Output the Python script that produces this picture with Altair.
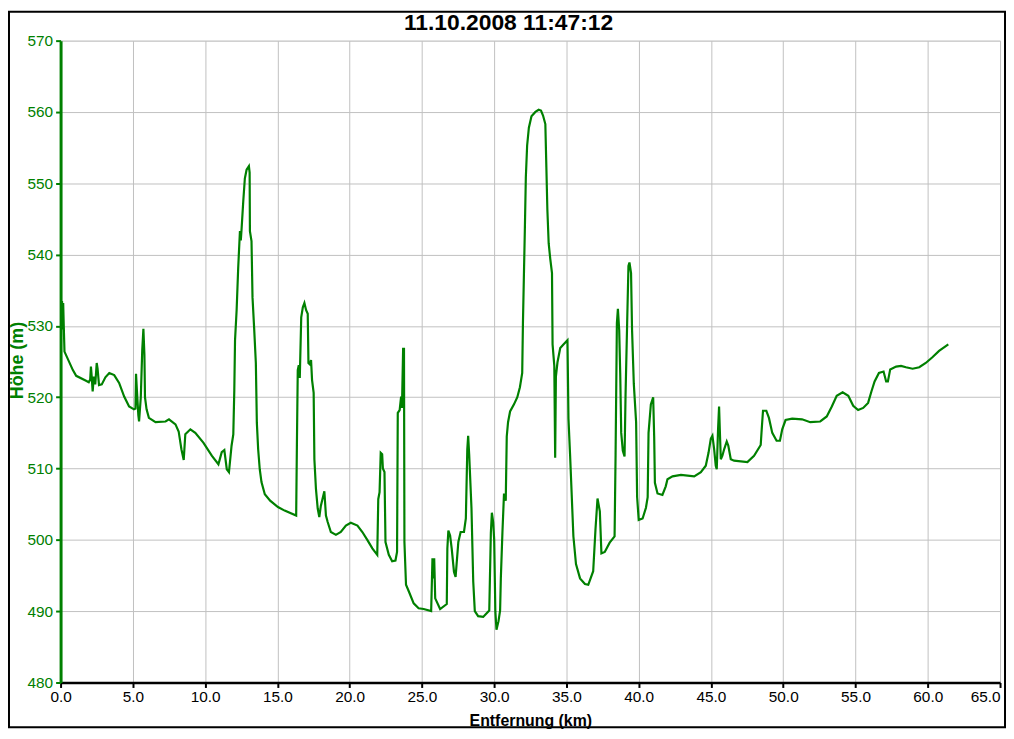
import altair as alt
import pandas as pd

# distance along track (km) and altitude (m)
km = [0.00, 0.05, 0.10, 0.14, 0.18, 0.22, 0.27, 0.85, 1.08, 1.76, 1.95, 2.05, 2.10, 2.15, 2.22, 2.30,
      2.40, 2.50, 2.56, 2.66, 2.85, 3.10, 3.37, 3.71, 4.05, 4.40, 4.74, 5.08, 5.18, 5.22, 5.28, 5.38,
      5.43, 5.55, 5.65, 5.73, 5.80, 5.84, 5.95, 6.11, 6.57, 7.26, 7.50, 7.95, 8.17, 8.36, 8.52, 8.63,
      8.98, 9.32, 9.89, 10.46, 10.92, 11.15, 11.33, 11.50, 11.65, 11.83, 11.95, 12.02, 12.07, 12.18,
      12.29, 12.41, 12.47, 12.52, 12.64, 12.75, 12.87, 13.03, 13.08, 13.10, 13.21, 13.28, 13.39, 13.51,
      13.58, 13.67, 13.78, 13.90, 14.13, 14.50, 15.04, 15.50, 16.30, 16.35, 16.41, 16.48, 16.55, 16.65,
      16.76, 16.87, 16.99, 17.10, 17.15, 17.25, 17.33, 17.40, 17.51, 17.56, 17.67, 17.79, 17.90, 18.01,
      18.25, 18.36, 18.48, 18.70, 19.05, 19.39, 19.74, 20.08, 20.54, 20.88, 21.22, 21.57, 21.91, 21.98,
      22.07, 22.15, 22.25, 22.30, 22.41, 22.48, 22.71, 22.94, 23.17, 23.28, 23.33, 23.46, 23.56, 23.62,
      23.70, 23.76, 23.79, 23.90, 24.09, 24.43, 24.77, 25.12, 25.64, 25.73, 25.80, 25.85, 25.92, 26.26,
      26.72, 26.76, 26.83, 26.95, 27.06, 27.22, 27.33, 27.45, 27.52, 27.68, 27.91, 28.04, 28.14, 28.20,
      28.27, 28.43, 28.55, 28.66, 28.89, 29.24, 29.66, 29.77, 29.84, 29.93, 30.00, 30.08, 30.16, 30.30,
      30.41, 30.46, 30.57, 30.68, 30.80, 30.87, 30.96, 31.10, 31.37, 31.60, 31.78, 31.94, 31.99, 32.05,
      32.12, 32.19, 32.28, 32.40, 32.58, 32.85, 33.08, 33.24, 33.38, 33.54, 33.61, 33.68, 33.77, 33.88,
      34.00, 34.04, 34.16, 34.22, 34.27, 34.38, 34.57, 34.79, 35.07, 35.14, 35.25, 35.37, 35.48, 35.66,
      35.94, 36.28, 36.51, 36.85, 37.01, 37.15, 37.31, 37.42, 37.65, 37.99, 38.33, 38.40, 38.49, 38.56,
      38.65, 38.72, 38.79, 38.90, 39.02, 39.09, 39.20, 39.29, 39.36, 39.47, 39.54, 39.66, 39.82, 39.89,
      40.00, 40.27, 40.50, 40.62, 40.68, 40.84, 41.00, 41.07, 41.12, 41.30, 41.64, 41.87, 41.99, 42.34,
      42.92, 43.84, 44.30, 44.64, 44.83, 44.99, 45.10, 45.22, 45.33, 45.40, 45.49, 45.56, 45.61, 45.68,
      45.79, 45.91, 46.09, 46.20, 46.37, 46.60, 47.52, 47.98, 48.44, 48.51, 48.60, 48.83, 49.01, 49.24,
      49.54, 49.77, 49.93, 50.16, 50.62, 51.30, 51.87, 52.56, 53.01, 53.36, 53.70, 54.11, 54.50, 54.84,
      55.18, 55.53, 55.87, 56.10, 56.32, 56.62, 56.94, 57.12, 57.24, 57.40, 57.81, 58.15, 58.49, 58.95,
      59.41, 59.86, 60.32, 60.78, 61.42]

elev = [525.5, 531.5, 533.5, 529.5, 533.2, 530.0, 526.4, 523.8, 523.0, 522.3, 522.1, 522.5, 524.3, 523.0, 520.8, 522.9,
        521.8, 524.8, 524.0, 521.7, 521.8, 522.8, 523.4, 523.1, 522.0, 520.1, 518.7, 518.3, 518.4, 523.3, 521.0, 517.5,
        516.6, 520.0, 526.6, 529.6, 526.0, 520.0, 518.3, 517.1, 516.5, 516.6, 516.9, 516.2, 515.2, 512.7, 511.2, 514.8,
        515.5, 515.0, 513.6, 511.8, 510.6, 512.3, 512.6, 509.9, 509.5, 513.2, 514.8, 521.0, 528.0, 532.2,
        538.2, 543.3, 542.0, 543.5, 547.5, 550.7, 551.9, 552.4, 551.5, 543.3, 541.9, 534.0, 529.8, 524.8,
        516.4, 512.7, 509.9, 508.1, 506.4, 505.5, 504.6, 504.1, 503.4, 513.2, 523.8, 524.5, 522.7, 531.2,
        532.6, 533.2, 532.2, 531.7, 524.8, 524.6, 525.2, 522.4, 520.6, 511.3, 507.1, 504.4, 503.2, 504.8,
        506.8, 503.4, 502.5, 501.1, 500.7, 501.1, 502.0, 502.4, 502.0, 501.1, 500.0, 498.8, 497.9, 505.7,
        506.7, 512.2, 512.0, 510.0, 509.5, 499.7, 497.9, 497.0, 497.1, 498.3, 517.8, 518.2, 520.1, 518.5,
        526.8, 526.8, 499.7, 493.7, 492.8, 491.1, 490.4, 490.3, 490.0, 497.4, 494.6, 497.4, 491.8, 490.3,
        491.0, 498.8, 501.3, 500.6, 498.8, 495.5, 494.8, 497.9, 499.7, 501.1, 501.1, 503.0, 512.7, 514.6,
        512.0, 504.4, 494.2, 490.0, 489.3, 489.2, 490.1, 501.0, 503.8, 502.5, 500.0, 490.0, 487.4, 488.6,
        490.1, 494.6, 501.0, 506.5, 505.5, 514.5, 516.5, 518.0, 519.0, 520.0, 521.4, 523.4, 530.4, 536.4,
        543.3, 550.8, 555.3, 557.8, 559.4, 560.0, 560.3, 560.2, 559.5, 558.3, 552.3, 546.3, 541.6, 539.4,
        537.4, 527.4, 524.4, 511.5, 522.9, 524.9, 526.9, 527.4, 528.0, 517.0, 512.0, 506.0, 500.5, 496.6,
        494.6, 493.8, 493.7, 495.6, 501.5, 505.8, 504.0, 498.1, 498.3, 499.6, 500.5, 512.0, 530.4, 532.4,
        529.4, 523.4, 515.0, 512.5, 511.7, 520.4, 530.4, 538.4, 538.9, 537.4, 529.4, 521.9, 516.5, 506.0,
        502.8, 503.0, 504.5, 506.0, 515.0, 519.0, 520.0, 514.5, 508.0, 506.5, 506.3, 507.5, 508.5, 508.9,
        509.1, 508.9, 509.5, 510.4, 512.2, 514.2, 514.6, 512.7, 510.4, 509.9, 515.5, 518.7, 515.5, 511.3,
        511.8, 512.7, 513.8, 513.2, 511.3, 511.1, 510.9, 511.8, 513.3, 515.5, 518.1, 518.1, 517.1, 515.0,
        513.9, 513.9, 515.5, 516.8, 517.0, 516.9, 516.5, 516.6, 517.3, 518.7, 520.2, 520.7, 520.2, 518.8,
        518.2, 518.5, 519.2, 520.8, 522.2, 523.4, 523.6, 522.2, 522.2, 523.9, 524.3, 524.4, 524.2, 524.0,
        524.2, 524.8, 525.6, 526.5, 527.4]

x_ticks = [0, 5, 10, 15, 20, 25, 30, 35, 40, 45, 50, 55, 60, 65]
y_ticks = [480, 490, 500, 510, 520, 530, 540, 550, 560, 570]
title_text = "11.10.2008 11:47:12"
x_title = "Entfernung (km)"
y_title = "Höhe (m)"

df = pd.DataFrame({"km": km, "elev": elev})

W, H = 947, 647
FONT = "Liberation Sans"
GREEN = "#008000"
GRID = "#c0c0c0"

line = alt.Chart(df).mark_line(color=GREEN, strokeWidth=2.2, clip=True).encode(
    x=alt.X(
        "km:Q",
        scale=alt.Scale(domain=[0, 65], nice=False, zero=False),
        axis=alt.Axis(
            values=x_ticks, format=".1f", title=x_title,
            labelFont=FONT, labelFontSize=15.5, labelColor="black",
            labelAlign={"condition": {"test": "datum.value >= 65", "value": "right"}, "value": "center"},
            labelPadding=2, labelOverlap=False, labelBound=False, labelFlush=False,
            titleFont=FONT, titleFontSize=16, titleFontWeight="bold", titleColor="black",
            titlePadding=8,
            domainColor="black", domainWidth=2.5,
            tickColor="black", tickSize=5, tickWidth=2,
            grid=True, gridColor=GRID, gridWidth=1,
        ),
    ),
    y=alt.Y(
        "elev:Q",
        scale=alt.Scale(domain=[480, 570], nice=False, zero=False),
        axis=alt.Axis(
            values=y_ticks, format="d", title=y_title,
            labelFont=FONT, labelFontSize=15.5, labelColor=GREEN,
            labelPadding=3, labelOverlap=False, labelBound=False, labelFlush=False,
            titleFont=FONT, titleFontSize=18, titleFontWeight="bold", titleColor=GREEN,
            titleX=-43, titleY=322, titleAngle=270, titleBaseline="middle", titleAlign="center",
            domainColor=GREEN, domainWidth=3,
            tickColor=GREEN, tickSize=5, tickWidth=2,
            grid=True, gridColor=GRID, gridWidth=1,
        ),
    ),
)

border = alt.Chart(alt.Data(values=[{"a": 1}])).mark_rect(
    filled=False, color="black", strokeWidth=2
).encode(
    x=alt.value(-52), x2=alt.value(W + 5), y=alt.value(-29), y2=alt.value(H + 45)
)

chart = alt.layer(line, border).properties(
    width=W,
    height=H,
    autosize=alt.AutoSizeParams(type="none"),
    padding={"left": 53, "top": 30, "right": 6, "bottom": 46},
    title=alt.TitleParams(
        text=title_text, font=FONT, fontSize=23, fontWeight="bold", color="black",
        anchor="middle", frame="group", dx=-22, dy=28, offset=4,
    ),
).configure_view(strokeWidth=0).configure(background="white")

chart.save("out.html", embed_options={"renderer": "svg", "actions": False})
